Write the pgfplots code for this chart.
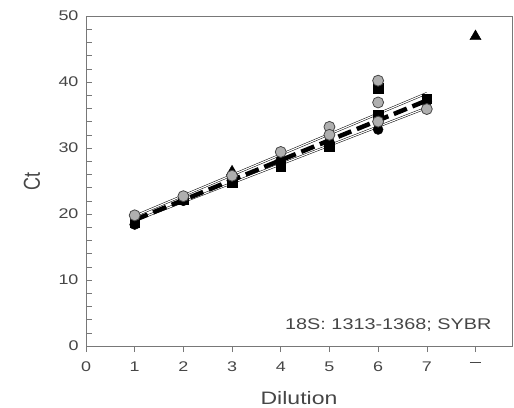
\documentclass[border=0pt]{standalone}
\usepackage{pgfplots}
\pgfplotsset{compat=1.18}
\usepackage{fontspec}
\setmainfont{Liberation Sans}
\definecolor{axgray}{RGB}{120,120,120}
\definecolor{txtgray}{RGB}{70,70,70}
\definecolor{ptgray}{RGB}{175,175,175}
\definecolor{ptedge}{RGB}{70,70,70}
\newcommand{\sx}[1]{\scalebox{1.28}[1]{#1}}
\begin{document}
\begin{tikzpicture}[x=1pt,y=1pt]
\path[use as bounding box] (0,0) rectangle (514,407);
\begin{axis}[
  at={(86pt,61pt)}, anchor=south west,
  scale only axis, width=426pt, height=330pt,
  xmin=0, xmax=8.75, ymin=0, ymax=50,
  xtick={0,1,2,3,4,5,6,7,8},
  xticklabels={\sx{0},\sx{1},\sx{2},\sx{3},\sx{4},\sx{5},\sx{6},\sx{7},\raisebox{4.5pt}{\rule{11pt}{0.9pt}}},
  ytick={0,10,20,30,40,50},
  yticklabel={\sx{\pgfmathprintnumber{\tick}}},
  minor ytick={2,4,...,48},
  tick pos=left,
  axis line style={axgray, line width=0.6pt},
  every tick/.style={axgray, line width=0.6pt},
  ytick align=inside, xtick align=outside,
  major tick length=6pt, minor tick length=6pt,
  /pgf/number format/assume math mode=true,
  tick label style={font=\fontsize{14}{16}\selectfont, text=txtgray},
  yticklabel style={xshift=-4pt},
  xticklabel style={yshift=-6pt},
  xlabel={\sx{Dilution}}, ylabel={\scalebox{1}[1.28]{Ct}},
  label style={font=\fontsize{18}{20}\selectfont, text=txtgray},
  xlabel style={at={(axis description cs:0.5,0)}, anchor=center, yshift=-52pt},
  ylabel style={at={(axis description cs:0,0.5)}, anchor=center, yshift=54pt},
  clip=false,
]
% regression lines
\addplot[draw=black, line width=0.5pt, double=white, double distance=1.2pt] coordinates {(1,19.7) (7,38.3)};
\addplot[draw=black, line width=0.5pt, double=white, double distance=1.2pt] coordinates {(1,19.0) (7,36.1)};
\addplot[black, line width=4.5pt, dash pattern=on 14pt off 6pt] coordinates {(1,19.1) (7,37.2)};
% black circles
\addplot[only marks, mark=*, mark size=5pt, mark options={fill=black, draw=black}] coordinates {
(1,18.4) (2,22.0) (3,25.0) (4,28.2) (5,30.9) (6,32.8) (7,37.0)};
% black squares
\addplot[only marks, mark=square*, mark size=4.8pt, mark options={fill=black, draw=black}] coordinates {
(1,18.7) (2,22.2) (3,24.8) (4,27.2) (5,30.2) (6,39.1) (6,35.0) (7,37.5)};
% triangles
\addplot[only marks, mark=triangle*, mark size=6.5pt, mark options={fill=black, draw=black}] coordinates {
(3,26.4) (8,46.9)};
% gray circles
\addplot[only marks, mark=*, mark size=5.5pt, mark options={fill=ptgray, draw=ptedge, line width=0.8pt}] coordinates {
(1,19.8) (2,22.7) (3,25.8) (4,29.4) (5,33.2) (5,32.0) (6,40.2) (6,36.9) (6,34.0) (7,35.9)};
\node[anchor=east, font=\fontsize{15.5}{17}\selectfont, text=txtgray] at (axis cs:8.4,3.2) {\sx{18S: 1313-1368; SYBR}};
\end{axis}
\draw[axgray, line width=0.6pt] (86,407-16) -- (512,407-16) -- (512,61);
\end{tikzpicture}
\end{document}
